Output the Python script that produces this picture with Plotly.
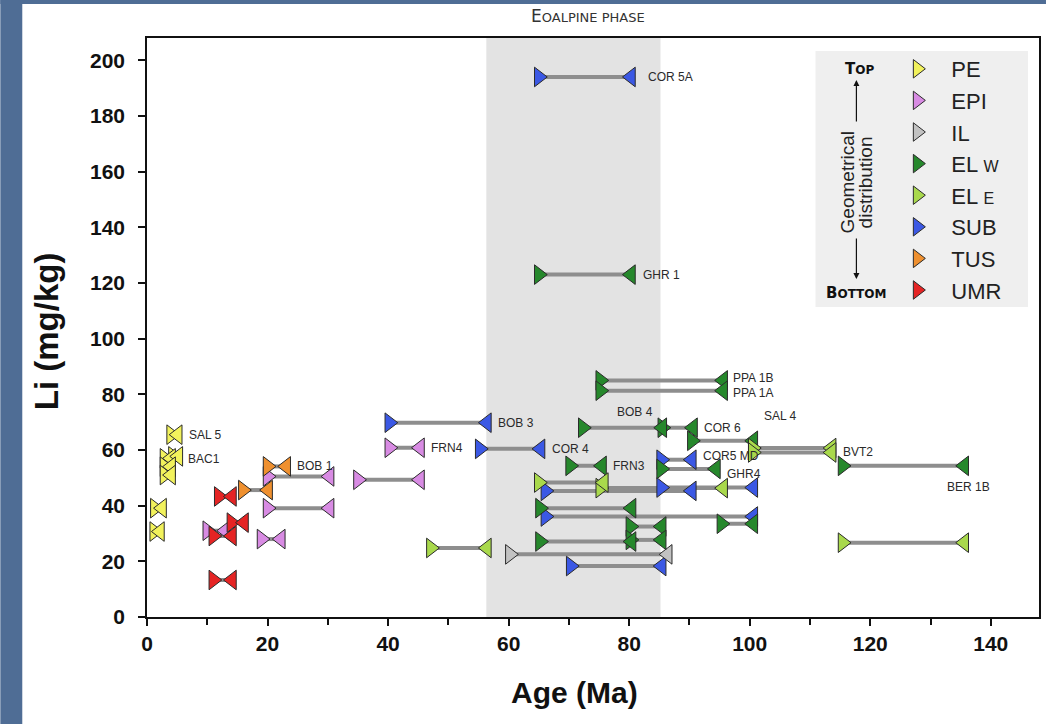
import plotly.graph_objects as go

# ---------------- data ----------------
categories = ["PE", "EPI", "IL", "EL w", "EL e", "SUB", "TUS", "UMR"]

pe_min = [4.0, 2.9, 4.3, 2.9, 2.9, 1.3, 1.2]
pe_max = [5.1, 4.0, 5.2, 4.0, 4.0, 2.5, 2.15]
pe_li = [65.5, 57.0, 57.7, 54.0, 51.0, 39.1, 30.7]
pe_lab = ["SAL 5", "", "BAC1", "", "", "", ""]

epi_min = [40.2, 35.0, 20.0, 20.0, 19.0, 10.0]
epi_max = [45.3, 45.3, 30.3, 30.3, 22.2, 13.0]
epi_li = [60.8, 49.3, 50.5, 39.1, 28.0, 31.0]
epi_lab = ["FRN4", "", "", "", "", ""]

il_min = [60.2]
il_max = [86.4]
il_li = [22.5]
il_lab = [""]

elw_min = [65.0, 75.2, 75.2, 72.3, 85.5, 90.4, 115.4, 70.2, 85.3, 65.2, 95.3, 80.2, 65.2, 80.2]
elw_max = [80.3, 95.6, 95.6, 85.5, 90.6, 100.6, 135.6, 75.5, 94.4, 80.4, 100.6, 85.4, 80.4, 85.4]
elw_li = [123.0, 85.0, 81.3, 68.0, 68.0, 63.3, 54.3, 54.3, 53.2, 39.1, 33.5, 32.5, 27.1, 27.7]
elw_lab = ["GHR 1", "PPA 1B", "PPA 1A", "BOB 4", "COR 6", "", "BER 1B", "FRN3", "GHR4",
           "", "", "", "", ""]

ele_min = [100.5, 100.5, 65.0, 75.2, 47.1, 115.4]
ele_max = [113.6, 113.6, 75.8, 95.6, 56.4, 135.6]
ele_li = [60.7, 59.1, 48.3, 46.3, 24.8, 26.7]
ele_lab = ["SAL 4", "BVT2", "", "", "", ""]

sub_min = [65.0, 40.2, 55.2, 85.3, 66.1, 85.3, 66.1, 70.3]
sub_max = [80.3, 56.4, 65.3, 90.4, 90.4, 100.6, 100.6, 85.4]
sub_li = [194.0, 69.8, 60.4, 56.5, 45.3, 46.5, 36.1, 18.3]
sub_lab = ["COR 5A", "BOB 3", "COR 4", "COR5 MD", "", "", "", ""]

tus_min = [20.0, 15.9]
tus_max = [23.1, 20.1]
tus_li = [54.1, 45.6]
tus_lab = ["BOB 1", ""]

umr_min = [11.9, 14.0, 11.0, 11.0]
umr_max = [14.1, 16.1, 14.1, 14.1]
umr_li = [43.3, 33.9, 29.1, 13.3]
umr_lab = ["", "", "", ""]

eoalpine_start = 56.3
eoalpine_end = 85.2

x_ticks = [0, 20, 40, 60, 80, 100, 120, 140]
y_ticks = [0, 20, 40, 60, 80, 100, 120, 140, 160, 180, 200]

# ---------------- styling ----------------
colors = {
    "PE": "#f2f25c", "EPI": "#d88be3", "IL": "#c2c2c2", "EL w": "#26882c",
    "EL e": "#a9d94c", "SUB": "#3b58e4", "TUS": "#ef902f", "UMR": "#e52424",
}
legend_names = {
    "PE": "PE", "EPI": "EPI", "IL": "IL",
    "EL w": "EL <span style='font-size:16px'>W</span>",
    "EL e": "EL <span style='font-size:16px'>E</span>",
    "SUB": "SUB", "TUS": "TUS", "UMR": "UMR",
}
series = {
    "PE": (pe_min, pe_max, pe_li, pe_lab),
    "EPI": (epi_min, epi_max, epi_li, epi_lab),
    "IL": (il_min, il_max, il_li, il_lab),
    "EL w": (elw_min, elw_max, elw_li, elw_lab),
    "EL e": (ele_min, ele_max, ele_li, ele_lab),
    "SUB": (sub_min, sub_max, sub_li, sub_lab),
    "TUS": (tus_min, tus_max, tus_li, tus_lab),
    "UMR": (umr_min, umr_max, umr_li, umr_lab),
}
draw_order = ["SUB", "EPI", "PE", "IL", "TUS", "EL w", "EL e", "UMR"]

# label placement: (anchor, xshift, yshift, xanchor)
label_style = {
    "SAL 4": ("min", 9, 32, "left"),
    "BER 1B": ("max", 4, -21, "center"),
    "BOB 4": ("mid", 12, 16, "center"),
    "BAC1": ("max", 8, -3, "left"),
    "GHR 1": ("max", 10, 0, "left"),
    "COR 5A": ("max", 15, 0, "left"),
    "PPA 1B": ("max", 8, 2, "left"),
    "PPA 1A": ("max", 8, -2, "left"),
    "COR5 MD": ("max", 9, 4, "left"),
    "GHR4": ("max", 9, -5, "left"),
}

W, H = 1048, 724
ML, MR, MT, MB = 147, 7, 38, 107
PW, PH = W - ML - MR, H - MT - MB


def pxx(p):
    return (p - ML) / PW


def pxy(q):
    return (H - MB - q) / PH


fig = go.Figure()

# segment lines
for cat in draw_order:
    mn, mx, li, _ = series[cat]
    xs, ys = [], []
    for a, b, y in zip(mn, mx, li):
        xs += [a, b, None]
        ys += [y, y, None]
    fig.add_trace(go.Scatter(x=xs, y=ys, mode="lines", showlegend=False, hoverinfo="skip",
                             line=dict(color="#8e8e8e", width=4)))

# markers
for cat in draw_order:
    mn, mx, li, _ = series[cat]
    n = len(mn)
    fig.add_trace(go.Scatter(
        x=list(mn) + list(mx), y=list(li) + list(li), mode="markers",
        name=legend_names[cat], legendrank=categories.index(cat) + 1,
        marker=dict(symbol=["triangle-right"] * n + ["triangle-left"] * n,
                    size=17, color=colors[cat], line=dict(color="#2b2b2b", width=1)),
    ))

annotations = []
for cat in categories:
    mn, mx, li, lab = series[cat]
    for a, b, y, t in zip(mn, mx, li, lab):
        if not t:
            continue
        anchor, xs, ys, xa = label_style.get(t, ("max", 9, 0, "left"))
        xv = {"min": a, "max": b, "mid": (a + b) / 2}[anchor]
        annotations.append(dict(x=xv, y=y, xref="x", yref="y", text=t, showarrow=False,
                                xanchor=xa, yanchor="middle", xshift=xs, yshift=ys,
                                font=dict(family="Liberation Sans, Arial", size=12, color="#2a2a2a")))


def paper_text(px, py, text, size, family="Liberation Sans, Arial", color="#111111",
               angle=0, weight="normal"):
    annotations.append(dict(x=pxx(px), y=pxy(py), xref="paper", yref="paper", showarrow=False,
                            xanchor="center", yanchor="middle", text=text, textangle=angle,
                            font=dict(family=family, size=size, color=color, weight=weight)))


# title & axis titles
paper_text(589, 16, "<span style='font-size:17px'>E</span>OALPINE PHASE", 13,
           family="DejaVu Sans", color="#333333")
paper_text(575, 692, "Age (Ma)", 30, weight="bold")
paper_text(47, 331, "Li (mg/kg)", 33, angle=-90, weight="bold")

# legend side annotations
paper_text(861, 69, "<span style='font-size:15px'>T</span>OP", 12, family="DejaVu Sans",
           weight="bold")
paper_text(858, 293, "<span style='font-size:15px'>B</span>OTTOM", 12, family="DejaVu Sans",
           weight="bold")
paper_text(849, 182, "Geometrical", 19, color="#222222", angle=-90)
paper_text(867, 182, "distribution", 19, color="#222222", angle=-90)
annotations.append(dict(x=pxx(858), y=pxy(80), xref="paper", yref="paper", text="",
                        showarrow=True, ax=0, ay=43, arrowhead=2, arrowsize=1, arrowwidth=1.2,
                        arrowcolor="#111111"))
annotations.append(dict(x=pxx(858), y=pxy(279), xref="paper", yref="paper", text="",
                        showarrow=True, ax=0, ay=-42, arrowhead=2, arrowsize=1, arrowwidth=1.2,
                        arrowcolor="#111111"))

shapes = [
    dict(type="rect", xref="x", yref="paper", x0=eoalpine_start, x1=eoalpine_end, y0=0, y1=1,
         fillcolor="#e3e3e3", line=dict(width=0), layer="below"),
    dict(type="rect", xref="paper", yref="paper", x0=pxx(817), x1=pxx(1030), y0=pxy(307),
         y1=pxy(51), fillcolor="#efefef", line=dict(width=0), layer="below"),
    # slide background strips
    dict(type="rect", xref="paper", yref="paper", x0=pxx(0), x1=pxx(22), y0=pxy(H), y1=pxy(0),
         fillcolor="#4f6d95", line=dict(width=0), layer="below"),
    dict(type="rect", xref="paper", yref="paper", x0=pxx(0), x1=pxx(W), y0=pxy(4), y1=pxy(0),
         fillcolor="#4f6d95", line=dict(width=0), layer="below"),
]

fig.update_layout(
    width=W, height=H,
    margin=dict(l=ML, r=MR, t=MT, b=MB, pad=0),
    paper_bgcolor="white", plot_bgcolor="rgba(0,0,0,0)",
    showlegend=True,
    legend=dict(x=pxx(885), y=pxy(48), xanchor="left", yanchor="top",
                bgcolor="rgba(0,0,0,0)", borderwidth=0, itemwidth=58,
                font=dict(family="Liberation Sans, Arial", size=22, color="#222222")),
    annotations=annotations,
    shapes=shapes,
    xaxis=dict(range=[0, 148], tickvals=x_ticks, showgrid=False, zeroline=False,
               showline=True, linecolor="#111111", linewidth=1.5, mirror=True,
               ticks="outside", ticklen=7, tickwidth=1.5, tickcolor="#111111",
               tickfont=dict(family="Liberation Sans, Arial", size=21, color="#111111",
                             weight="bold"),
               minor=dict(dtick=10, ticks="outside", ticklen=6, tickwidth=1.5, tickcolor="#111111")),
    yaxis=dict(range=[0, 208], tickvals=y_ticks, showgrid=False, zeroline=False,
               showline=True, linecolor="#111111", linewidth=1.5, mirror=True,
               ticks="outside", ticklen=7, tickwidth=1.5, tickcolor="#111111",
               ticklabelstandoff=9,
               tickfont=dict(family="Liberation Sans, Arial", size=21, color="#111111",
                             weight="bold")),
)

fig.write_html("out.html", config={"displayModeBar": False},
               post_script="document.body.style.margin='0px';document.body.style.overflow='hidden';")
